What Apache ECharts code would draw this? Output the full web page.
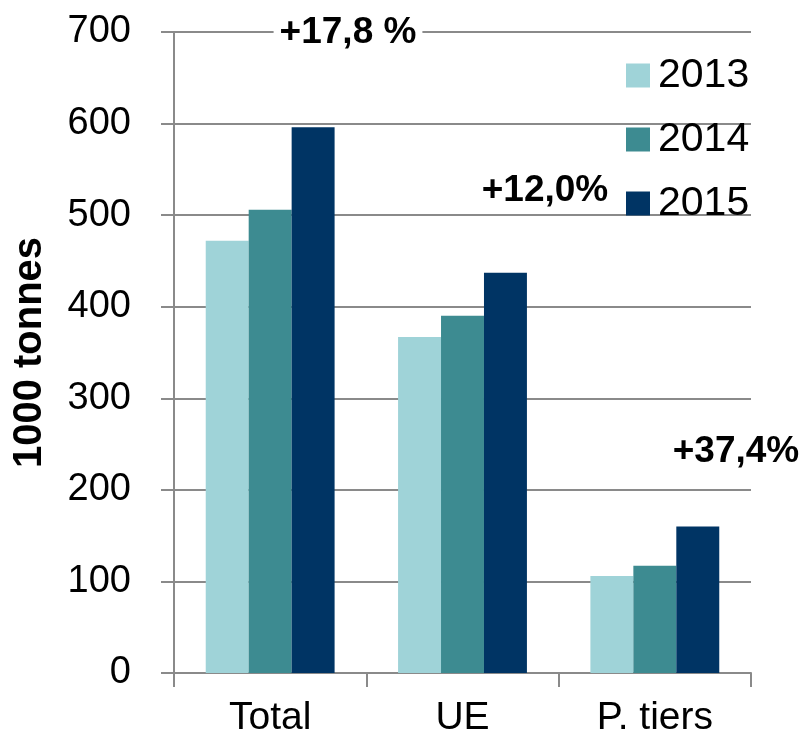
<!DOCTYPE html>
<html>
<head>
<meta charset="utf-8">
<script src="https://cdn.jsdelivr.net/npm/echarts@6/dist/echarts.min.js"></script>
<style>
  html, body { margin: 0; padding: 0; background: #fff; }
  #chart { width: 805px; height: 742px; }
</style>
</head>
<body>
<div id="chart"></div>
<script>
"use strict";
var categories = ['Total', 'UE', 'P. tiers'];
var years = ['2013', '2014', '2015'];
var values2013 = [472, 367, 106];
var values2014 = [506, 390, 117];
var values2015 = [596, 437, 160];
var yTicks = { min: 0, max: 700, interval: 100 };
var growthLabels = ['+17,8 %', '+12,0%', '+37,4%'];

var FONT = 'Arial, "Liberation Sans", sans-serif';
var GRID_GRAY = '#8a8a8a';
var COLORS = ['#9fd3d8', '#3d8b91', '#003464'];

var el = document.getElementById('chart');
var chart = echarts.init(el, null, { renderer: 'canvas' });

function makeSeries(name, data, idx) {
    return {
        name: name,
        type: 'bar',
        data: data,
        barGap: '0%',
        barCategoryGap: '33%',
        itemStyle: { color: COLORS[idx] },
        animation: false
    };
}

function annotation(text, x, y, bg) {
    var st = {
        text: text,
        x: x,
        y: y,
        align: 'center',
        verticalAlign: 'middle',
        font: 'bold 37px ' + FONT,
        fill: '#000'
    };
    if (bg) {
        st.backgroundColor = '#fff';
        st.padding = [0, 6, 0, 6];
    }
    return { type: 'text', z: 100, style: st };
}

var option = {
    animation: false,
    backgroundColor: '#fff',
    textStyle: { fontFamily: FONT },
    grid: { left: 174, right: 54, top: 32, bottom: 69, containLabel: false },
    legend: {
        orient: 'vertical',
        left: 621,
        top: 50,
        itemWidth: 24,
        itemHeight: 24,
        itemGap: 23,
        icon: 'rect',
        data: years,
        textStyle: { fontSize: 41, color: '#000', fontFamily: FONT, padding: [0, 0, 0, 3] }
    },
    xAxis: {
        type: 'category',
        data: categories,
        axisLine: { lineStyle: { color: GRID_GRAY, width: 2 } },
        axisTick: { show: true, length: 14, lineStyle: { color: GRID_GRAY, width: 2 } },
        axisLabel: { fontSize: 39, color: '#000', margin: 26, fontFamily: FONT },
        splitLine: { show: false }
    },
    yAxis: {
        type: 'value',
        min: yTicks.min,
        max: yTicks.max,
        interval: yTicks.interval,
        name: '1000 tonnes',
        nameLocation: 'middle',
        nameGap: 124,
        nameTextStyle: { fontSize: 40, fontWeight: 'bold', color: '#000', fontFamily: FONT },
        axisLine: { show: true, lineStyle: { color: GRID_GRAY, width: 2 } },
        axisTick: { show: true, length: 13, lineStyle: { color: GRID_GRAY, width: 2 } },
        axisLabel: { fontSize: 38, color: '#000', margin: 43, fontFamily: FONT },
        splitLine: { show: true, lineStyle: { color: GRID_GRAY, width: 2 } }
    },
    series: [
        makeSeries(years[0], values2013, 0),
        makeSeries(years[1], values2014, 1),
        makeSeries(years[2], values2015, 2)
    ],
    graphic: [
        annotation(growthLabels[0], 348, 33, true),
        annotation(growthLabels[1], 545, 191, false),
        annotation(growthLabels[2], 736, 452, false)
    ]
};

chart.setOption(option);
</script>
</body>
</html>
